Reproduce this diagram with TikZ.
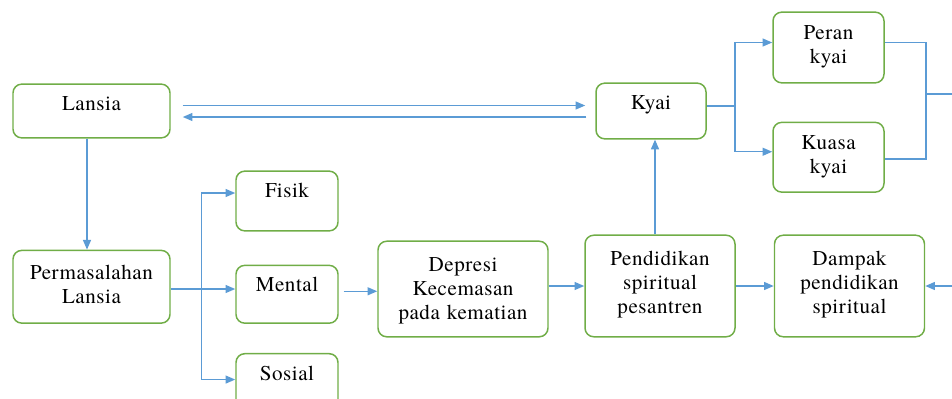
\documentclass[tikz,border=0pt]{standalone}
\usepackage{fontspec}
\IfFontExistsTF{TeX Gyre Termes}{\setmainfont{TeX Gyre Termes}[LetterSpace=2.5]}{\setmainfont{Liberation Serif}[LetterSpace=2.5]}
\usetikzlibrary{arrows.meta, positioning}
\definecolor{boxgreen}{RGB}{112,173,71}
\definecolor{lineblue}{RGB}{91,155,213}

\begin{document}
\begin{tikzpicture}[
        font=\rmfamily\fontsize{12}{13.7}\selectfont,
        box/.style={rectangle, draw=boxgreen, line width=0.85pt, rounded corners=5pt, align=center, inner xsep=0pt, inner ysep=4.5pt, text height=10.5pt},
        link/.style={draw=lineblue, line width=0.85pt},
        arr/.style={link, -{Triangle[length=5.5pt, width=4.5pt]}}
    ]
        \useasboundingbox (0,0) rectangle (19.04,-7.96);
        \clip (0,0) rectangle (19.04,-7.96);

        \node (lansia) [box, text width=3.14cm, text depth=11.1pt] at (1.83,-2.22) {Lansia};
        \node (masalah) [box, text width=3.14cm, text height=12pt, text depth=20.4pt, below=2.22cm of lansia] {Permasalahan\\Lansia};
        \node (fisik) [box, text width=2.04cm, text depth=14.5pt] at (5.74,-4.02) {Fisik};
        \node (mental) [box, text width=2.04cm, text depth=13.4pt, below=0.66cm of fisik] {Mental};
        \node (sosial) [box, text width=2.04cm, text depth=14.5pt, below=0.58cm of mental] {Sosial};
        \node (depresi) [box, text width=3.4cm, text height=12.7pt, text depth=32.7pt] at (9.26,-5.78) {Depresi\\Kecemasan\\pada kematian};
        \node (pesantren) [box, text width=3cm, text height=12.7pt, text depth=36.1pt] at (13.2,-5.72) {Pendidikan\\spiritual\\pesantren};
        \node (dampak) [box, text width=3cm, text height=12.7pt, text depth=36.1pt, right=0.76cm of pesantren] {Dampak\\pendidikan\\spiritual};
        \node (kyai) [box, text width=2.2cm, text depth=12.2pt] at (13.02,-2.22) {Kyai};
        \node (peran) [box, text width=2.22cm, text height=11pt, text depth=20.25pt] at (16.57,-0.95) {Peran\\kyai};
        \node (kuasa) [box, text width=2.22cm, text height=11pt, text depth=19.7pt, below=0.76cm of peran] {Kuasa\\kyai};

        \coordinate (br1) at (4.03,-5.78);
        \coordinate (br2) at (14.7,-2.12);
        \coordinate (br3) at (18.52,-1.88);
        \coordinate (outR) at (19.04,-1.88);
        \coordinate (inR) at (19.04,-5.72);

        \draw [arr, shorten <=0.24cm, shorten >=0.2cm] ([yshift=0.11cm]lansia.east) -- ([yshift=0.11cm]kyai.west);
        \draw [arr, shorten <=0.18cm, shorten >=0.24cm] ([yshift=-0.12cm]kyai.west) -- ([yshift=-0.12cm]lansia.east);
        \draw [arr] ([xshift=-0.09cm]lansia.south) -- ([xshift=-0.09cm]masalah.north);

        \draw [link] (masalah.east |- br1) -- (br1);
        \draw [arr] (br1) |- ([yshift=0.16cm]fisik.west);
        \draw [arr] (br1) -- (br1 -| mental.west);
        \draw [arr] (br1) |- ([yshift=0.08cm]sosial.west);

        \draw [arr, shorten <=0.1cm] ([yshift=0.06cm]mental.east) -- ([yshift=0.06cm]mental.east -| depresi.west);
        \draw [arr] (depresi.east |- pesantren.west) -- (pesantren.west);
        \draw [arr] ([xshift=-0.1cm]pesantren.north) -- ([xshift=-0.1cm]pesantren.north |- kyai.south);
        \draw [arr] (pesantren) -- (dampak);

        \draw [link] ([yshift=0.1cm]kyai.east) -- (br2);
        \draw [arr] (br2) |- ([yshift=0.1cm]peran.west);
        \draw [arr] (br2) |- ([yshift=0.11cm]kuasa.west);

        \draw [link] ([yshift=0.1cm]peran.east) -| (br3);
        \draw [link] ([yshift=-0.04cm]kuasa.east) -| (br3);
        \draw [link] (br3) -- (outR);
        \draw [arr] (inR) -- (dampak.east);
    \end{tikzpicture}
\end{document}
